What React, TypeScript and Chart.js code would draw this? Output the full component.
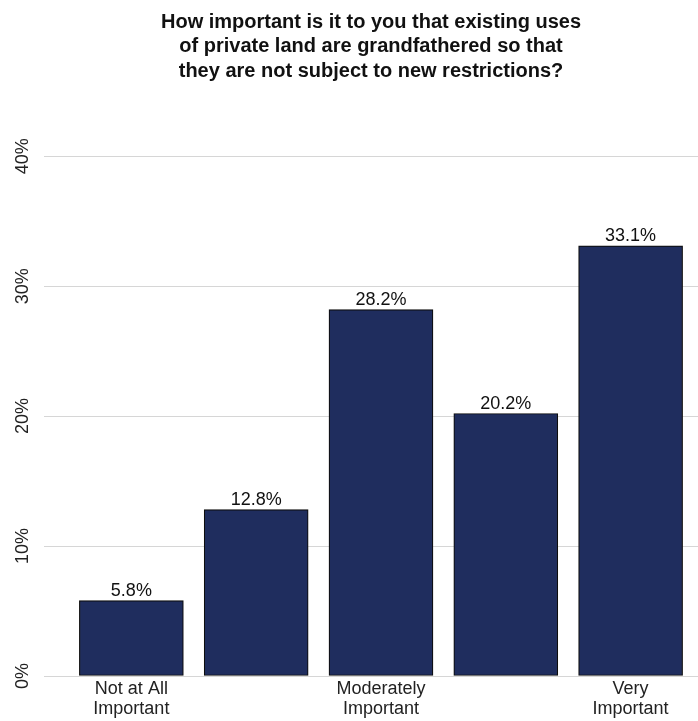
import React, { useEffect, useRef } from "react";
import { Chart, registerables } from "chart.js";

Chart.register(...registerables);

const FONT = '"Liberation Sans", Arial, Helvetica, sans-serif';

const categories = [
  "Not at All Important",
  "Slightly Important",
  "Moderately Important",
  "Important",
  "Very Important",
];
const tickLabels: (string | string[])[] = [
  ["Not at All", "Important"],
  "",
  ["Moderately", "Important"],
  "",
  ["Very", "Important"],
];
const values = [5.8, 12.8, 28.2, 20.2, 33.1];
const yTicks = [0, 10, 20, 30, 40];
const titleLines = [
  "How important is it to you that existing uses",
  "of private land are grandfathered so that",
  "they are not subject to new restrictions?",
];

const labelPlugin = {
  id: "customLabels",
  afterDraw(chart: any) {
    const { ctx, scales, chartArea } = chart;
    const y = scales.y;
    ctx.save();
    ctx.font = `18px ${FONT}`;
    ctx.fillStyle = "#222222";
    ctx.textAlign = "center";
    ctx.textBaseline = "middle";
    yTicks.forEach((v) => {
      const py = y.getPixelForValue(v);
      ctx.save();
      ctx.translate(chartArea.left - 21, py);
      ctx.rotate(-Math.PI / 2);
      ctx.fillText(`${v}%`, 0, 0);
      ctx.restore();
    });
    ctx.fillStyle = "#111111";
    ctx.textBaseline = "alphabetic";
    const meta = chart.getDatasetMeta(0);
    meta.data.forEach((el: any, i: number) => {
      ctx.fillText(`${values[i].toFixed(1)}%`, el.x, el.y - 5);
    });
    ctx.restore();
  },
};

export default function App() {
  const ref = useRef<HTMLCanvasElement | null>(null);

  useEffect(() => {
    if (!ref.current) return;
    const chart = new Chart(ref.current, {
      type: "bar",
      data: {
        datasets: [
          {
            label: "Share",
            data: values.map((v, i) => ({ x: i, y: v, c: categories[i] })) as any,
            backgroundColor: "#1f2d5e",
            borderColor: "#0d0d0d",
            borderWidth: 1.2,
            borderSkipped: false,
            barThickness: 104,
          },
        ],
      },
      options: {
        responsive: false,
        animation: false,
        maintainAspectRatio: false,
        layout: { padding: { left: 0, right: 0, top: 0, bottom: 0 } },
        plugins: {
          legend: { display: false },
          tooltip: { enabled: false },
          title: {
            display: true,
            text: titleLines,
            fullSize: false,
            color: "#111111",
            font: { family: FONT, size: 20, weight: "bold", lineHeight: 1.22 },
            padding: { top: 10, bottom: 73 },
          },
        },
        scales: {
          x: {
            type: "linear",
            offset: false,
            min: -0.7,
            max: 4.54,
            grid: { display: false, drawTicks: false, offset: false },
            border: { display: false },
            afterBuildTicks: (scale: any) => {
              scale.ticks = tickLabels.map((_, i) => ({ value: i }));
            },
            afterFit: (scale: any) => {
              scale.height = 45;
            },
            ticks: {
              autoSkip: false,
              maxRotation: 0,
              minRotation: 0,
              padding: 3,
              color: "#222222",
              font: { family: FONT, size: 18, lineHeight: 1.1 },
              callback: (v: any) => tickLabels[Math.round(Number(v))] ?? "",
            },
          },
          y: {
            min: 0,
            max: 40,
            afterBuildTicks: (scale: any) => {
              scale.ticks = yTicks.map((v) => ({ value: v }));
            },
            afterFit: (scale: any) => {
              scale.width = 44;
            },
            grid: { color: "#d6d6d6", lineWidth: 1, drawTicks: false },
            border: { display: false },
            ticks: { display: false },
          },
        },
      },
      plugins: [labelPlugin],
    });
    return () => chart.destroy();
  }, []);

  return (
    <div style={{ position: "fixed", left: 0, top: 0, width: 698, height: 721, background: "#fff" }}>
      <canvas ref={ref} width={698} height={721} style={{ display: "block" }} />
    </div>
  );
}
